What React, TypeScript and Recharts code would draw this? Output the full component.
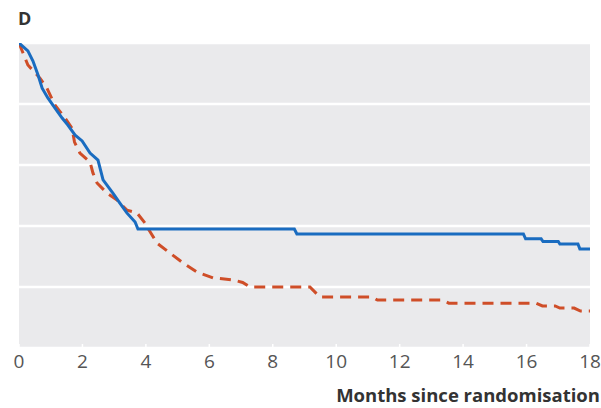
import React from "react";
import { LineChart, Line, XAxis, YAxis, CartesianGrid } from "recharts";

const blueMonths = [0, 0.28, 0.44, 0.6, 0.73, 0.91, 1.13, 1.36, 1.54, 1.77, 1.99, 2.24, 2.49, 2.65, 2.96, 3.18, 3.4, 3.66, 3.75, 8.68, 8.76, 15.9, 15.97, 16.46, 16.52, 17.0, 17.05, 17.62, 17.68, 18];
const blueSurvival = [1.0, 0.974, 0.941, 0.895, 0.852, 0.82, 0.787, 0.754, 0.731, 0.698, 0.679, 0.639, 0.616, 0.551, 0.508, 0.475, 0.443, 0.413, 0.39, 0.39, 0.374, 0.374, 0.358, 0.358, 0.349, 0.349, 0.341, 0.341, 0.325, 0.325];

const redMonths = [0, 0.19, 0.28, 0.66, 0.88, 1.13, 1.45, 1.67, 1.75, 1.92, 2.24, 2.33, 2.46, 2.77, 3.09, 3.4, 3.72, 3.97, 4.04, 4.35, 4.76, 5.17, 5.61, 6.12, 6.75, 7.05, 7.28, 9.17, 9.49, 11.15, 11.3, 13.35, 13.55, 16.3, 16.5, 16.9, 17.05, 17.5, 17.7, 18];
const redSurvival = [1.0, 0.951, 0.928, 0.885, 0.852, 0.797, 0.754, 0.721, 0.675, 0.639, 0.61, 0.574, 0.541, 0.508, 0.485, 0.452, 0.443, 0.41, 0.397, 0.344, 0.311, 0.279, 0.249, 0.23, 0.223, 0.215, 0.2, 0.2, 0.167, 0.167, 0.157, 0.157, 0.147, 0.147, 0.138, 0.138, 0.131, 0.131, 0.121, 0.121];

const xTicks = [0, 2, 4, 6, 8, 10, 12, 14, 16, 18];
const yGridTicks = [0.2, 0.4, 0.6, 0.8];
const panelLabel = "D";
const xAxisTitle = "Months since randomisation";

const blueData = blueMonths.map((m, i) => ({ month: m, value: blueSurvival[i] }));
const redData = redMonths.map((m, i) => ({ month: m, value: redSurvival[i] }));

const FONT = "'Open Sans', 'DejaVu Sans', sans-serif";

const Tick = (props: any) => {
  const { x, y, payload } = props;
  return (
    <g>
      <line x1={x} x2={x} y1={y - 4} y2={y} stroke="#ffffff" strokeWidth={1.5} />
      <text x={x} y={y + 20} textAnchor="middle" fontSize={19} fill="#555555" fontFamily={FONT}>
        {payload.value}
      </text>
    </g>
  );
};

export default function App() {
  return (
    <div style={{ position: "absolute", left: 0, top: 0, width: 601, height: 408, background: "#fff" }}>
      <LineChart
        width={601}
        height={408}
        margin={{ top: 43, right: 11, bottom: 30, left: 19 }}
      >
        <CartesianGrid fill="#eaeaec" stroke="#ffffff" strokeWidth={2.5} vertical={false} horizontal={true} />
        <XAxis
          dataKey="month"
          type="number"
          domain={[0, 18]}
          ticks={xTicks}
          allowDataOverflow
          axisLine={false}
          tickLine={false}
          tickSize={0}
          tickMargin={0}
          height={30}
          tick={<Tick />}
          interval={0}
        />
        <YAxis type="number" domain={[0, 1]} ticks={yGridTicks} hide width={0} allowDataOverflow />
        <Line
          data={redData}
          dataKey="value"
          type="linear"
          stroke="#cf4e28"
          strokeWidth={3}
          strokeDasharray="11 7"
          dot={false}
          isAnimationActive={false}
        />
        <Line
          data={blueData}
          dataKey="value"
          type="linear"
          stroke="#1a6cc0"
          strokeWidth={3}
          dot={false}
          isAnimationActive={false}
        />
      </LineChart>
      <div style={{ position: "absolute", left: 18, top: 6, fontFamily: FONT, fontWeight: 700, fontSize: 18, lineHeight: "24px", color: "#333" }}>
        {panelLabel}
      </div>
      <div style={{ position: "absolute", right: 1, top: 384, fontFamily: FONT, fontWeight: 700, fontSize: 18.5, lineHeight: "22px", color: "#333", whiteSpace: "nowrap" }}>
        {xAxisTitle}
      </div>
    </div>
  );
}
